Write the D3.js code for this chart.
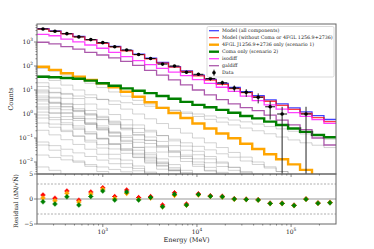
<!DOCTYPE html>
<html>
<head>
<meta charset="utf-8">
<script src="https://cdn.jsdelivr.net/npm/d3@7"></script>
<style>
  body { margin: 0; background: #fff; }
  svg text { font-family: "DejaVu Serif", serif; fill: #222; }
</style>
</head>
<body>
<svg id="chart" width="374" height="249"></svg>
<script>
// energy bin edges (MeV)
var binEdges = [200, 268, 359, 481, 644, 863, 1156, 1549, 2075, 2780, 3725, 4990, 6685,
  8956, 11999, 16075, 21535, 28851, 38652, 51782, 69372, 92937, 124507, 166802, 223466, 300000];

var dataCounts = [3500, 2800, 2230, 1630, 1260, 940, 635, 465, 300, 205, 120, 100, 55, 45, 30,
  20, 12, 8, 5, 2, 1, 0, 1, 0, 0];

var modelAll = [3596, 2889, 2245, 1707, 1267, 919, 652, 451, 310, 210, 140, 94.4, 62.9, 41.8,
  27.9, 18.8, 12.7, 8.6, 5.8, 3.9, 2.65, 1.8, 1.23, 0.85, 0.59];
var modelBkg = [3467, 2786, 2163, 1641, 1216, 881, 624, 431, 295, 200, 133, 89, 59, 39, 25.7,
  17.2, 11.5, 7.7, 5.1, 3.4, 2.3, 1.55, 1.05, 0.71, 0.48];
var psrOnly = [93, 69, 50, 36, 26, 19, 13, 8.5, 5.2, 3.1, 1.8, 1.1, 0.68, 0.40, 0.25, 0.155,
  0.098, 0.058, 0.035, 0.021, 0.013, 0.008, 0.0047, 0.0028, 0.0017];
var comaOnly = [35.5, 34, 31.6, 29.5, 24.5, 19, 15, 11.7, 9.3, 7.4, 5.6, 4.3, 3.2, 2.4, 1.9,
  1.48, 1.12, 0.83, 0.66, 0.48, 0.35, 0.25, 0.18, 0.135, 0.107];
var isodiff = [2090, 1820, 1330, 1020, 750, 550, 372, 245, 166, 115, 80, 56, 39.5, 27, 18.8,
  13, 8.7, 5.6, 3.6, 2.4, 1.6, 1.15, 0.8, 0.58, 0.41];
var galdiff = [977, 832, 646, 501, 372, 288, 219, 155, 107, 66, 42, 26.3, 16.2, 10, 6.3, 4.0,
  2.63, 1.86, 1.38, 0.89, 0.56, 0.355, 0.224, 0.1, 0.051];

// other point sources in the region of interest
var otherSources = [
  [8.9, 7.6, 6.6, 5.6, 4.8, 4.1, 3.5, 2.95, 2.5, 2.1, 1.74, 1.45, 1.2, 1.0, 0.83, 0.69, 0.56, 0.47, 0.38, 0.30, 0.24, 0.19, 0.148, 0.115, 0.089],
  [79, 60, 42, 28, 19, 12.6, 8.3, 5.5, 3.7, 2.6, 1.9, 1.4, 1.05, 0.79, 0.6, 0.46, 0.35, 0.26, 0.2, 0.15, 0.11, 0.083, 0.063, 0.05, 0.04],
  [20, 12, 7.2, 4.4, 2.6, 1.6, 0.95, 0.58, 0.35, 0.21, 0.126, 0.076, 0.046, 0.028, 0.017, 0.01, 0.006, 0.0036],
  [14, 8, 4.5, 2.5, 1.4, 0.8, 0.45, 0.25, 0.14, 0.08, 0.045, 0.025, 0.014, 0.008, 0.0045],
  [10, 5, 2.5, 1.26, 0.63, 0.32, 0.16, 0.08, 0.04, 0.02, 0.01, 0.005],
  [7.6, 4.6, 2.75, 1.66, 1.0, 0.6, 0.36, 0.22, 0.13, 0.08, 0.048, 0.029, 0.017, 0.01, 0.006, 0.0037],
  [5.6, 2.9, 1.5, 0.8, 0.42, 0.22, 0.115, 0.06, 0.031, 0.016, 0.0085, 0.0045],
  [4.7, 3.1, 2.0, 1.35, 0.9, 0.58, 0.39, 0.26, 0.17, 0.11, 0.072, 0.048, 0.031, 0.02, 0.0135, 0.009, 0.006, 0.004],
  [3.5, 2.0, 1.15, 0.66, 0.38, 0.22, 0.126, 0.072, 0.041, 0.024, 0.0135, 0.0078, 0.0045],
  [2.6, 1.66, 1.05, 0.66, 0.42, 0.26, 0.166, 0.105, 0.066, 0.042, 0.026, 0.0166, 0.0105, 0.0066, 0.0042],
  [1.95, 1.07, 0.59, 0.32, 0.18, 0.098, 0.054, 0.03, 0.016, 0.009, 0.005],
  [1.62, 1.12, 0.78, 0.54, 0.37, 0.26, 0.18, 0.123, 0.085, 0.059, 0.041, 0.028, 0.0195, 0.0135, 0.0093, 0.0065, 0.0045],
  [1.2, 0.72, 0.43, 0.26, 0.155, 0.093, 0.056, 0.033, 0.02, 0.012, 0.0072, 0.0043],
  [0.91, 0.58, 0.36, 0.23, 0.145, 0.091, 0.058, 0.036, 0.023, 0.0145, 0.0091, 0.0058, 0.0036],
  [0.68, 0.38, 0.21, 0.12, 0.068, 0.038, 0.021, 0.012, 0.0068, 0.0038],
  [0.42, 0.28, 0.185, 0.12, 0.081, 0.053, 0.035, 0.023, 0.0153, 0.01, 0.0067, 0.0044],
  [0.21, 0.135, 0.085, 0.054, 0.034, 0.021, 0.0135, 0.0085, 0.0054, 0.0034],
  [0.068, 0.048, 0.034, 0.024, 0.017, 0.012, 0.0085, 0.006, 0.0043],
  [0.051, 0.031, 0.018, 0.011, 0.0066, 0.004],
  [0.0195, 0.0155, 0.0123, 0.0098, 0.0078, 0.0062, 0.0049, 0.0039],
  [0.0062, 0.0045],
  [4.0, 2.8, 2.0, 1.42, 1.0, 0.71, 0.5, 0.35, 0.25, 0.18, 0.126, 0.089, 0.063, 0.045, 0.032, 0.022, 0.0158, 0.011, 0.0079, 0.0056, 0.004],
  [40, 25, 16, 10, 6.3, 4, 2.5, 1.6, 1.0, 0.63, 0.4, 0.25, 0.16, 0.1, 0.063, 0.04, 0.025, 0.016, 0.01, 0.0063, 0.004]
];

// residuals (data - model)/sqrt(model)
var resBkg = [0.8, 0.15, 1.6, -0.25, 1.4, 2.25, 0.5, 1.8, 0.3, 0.5, -1.2, 1.25, -1.0, 1.05, 0.65,
  0.55, 0.05, -0.05, -0.15, -0.85, -0.85, -1.25, 0.0, -0.8, -0.7];
var resComa = [0.2, -0.35, 1.15, -0.6, 1.0, 1.95, 0.1, 1.1, -0.1, 0.2, -1.55, 0.7, -1.25, 0.8, 0.5,
  0.4, -0.05, -0.1, -0.2, -0.9, -0.9, -1.3, -0.05, -0.85, -0.7];
var resPsr = [-0.55, -1.0, 0.45, -1.2, 0.5, 1.6, -0.2, 1.4, -0.2, 0.3, -1.55, 0.95, -1.2, 0.9, 0.55,
  0.45, 0.0, -0.1, -0.2, -0.9, -0.9, -1.3, -0.05, -0.85, -0.75];

var legendLabels = ["Model (all components)", "Model (without Coma or 4FGL 1256.9+2736)",
  "4FGL J1256.9+2736 only (scenario 1)", "Coma only (scenario 2)", "isodiff", "galdiff", "Data"];

var pLeft = 37, pRight = 336, pTop = 24, pMid = 174, pBottom = 224;
var yMin = Math.pow(10, -2.5), yMax = Math.pow(10, 3.75);

var svg = d3.select("#chart");

var x = d3.scaleLog().domain([200, 300000]).range([pLeft, pRight]);
var y = d3.scaleLog().domain([yMin, yMax]).range([pMid, pTop]);
var yr = d3.scaleLinear().domain([-5, 5]).range([pBottom, pMid]);

svg.append("clipPath").attr("id", "clipMain")
  .append("rect").attr("x", pLeft).attr("y", pTop).attr("width", pRight - pLeft).attr("height", pMid - pTop);
svg.append("clipPath").attr("id", "clipRes")
  .append("rect").attr("x", pLeft).attr("y", pMid).attr("width", pRight - pLeft).attr("height", pBottom - pMid);

var centers = binEdges.slice(0, -1).map(function(e, i) { return Math.sqrt(e * binEdges[i + 1]); });

function stepPath(vals) {
  var pts = [];
  vals.forEach(function(v, i) { pts.push([binEdges[i], v]); });
  var n = vals.length;
  if (n < binEdges.length - 1) {
    // spectrum continues below the axis
    pts.push([binEdges[n], yMin / 20]);
    pts.push([binEdges[n + 1], yMin / 20]);
  } else {
    pts.push([binEdges[n], vals[n - 1]]);
  }
  return d3.line().curve(d3.curveStepAfter)
    .x(function(d) { return x(d[0]); })
    .y(function(d) { return y(Math.max(d[1], yMin / 20)); })(pts);
}

var main = svg.append("g").attr("clip-path", "url(#clipMain)");

main.selectAll(".src")
  .data(otherSources)
  .enter().append("path")
  .attr("class", "src")
  .attr("d", stepPath)
  .attr("fill", "none")
  .attr("stroke", "#808080")
  .attr("stroke-opacity", 0.35)
  .attr("stroke-width", 1);

var curves = [
  { vals: modelAll, color: "#0000ff", op: 0.75, w: 1.3 },
  { vals: modelBkg, color: "#ff0000", op: 0.75, w: 1.3 },
  { vals: psrOnly, color: "#ffa500", op: 1, w: 2.4 },
  { vals: comaOnly, color: "#008000", op: 1, w: 2.4 },
  { vals: isodiff, color: "#ff00ff", op: 0.75, w: 1.3 },
  { vals: galdiff, color: "#800080", op: 0.65, w: 1.3 }
];

main.selectAll(".model")
  .data(curves)
  .enter().append("path")
  .attr("class", "model")
  .attr("d", function(d) { return stepPath(d.vals); })
  .attr("fill", "none")
  .attr("stroke", function(d) { return d.color; })
  .attr("stroke-opacity", function(d) { return d.op; })
  .attr("stroke-width", function(d) { return d.w; });

// data points with poisson error bars
var pts = dataCounts.map(function(n, i) { return { n: n, i: i }; })
  .filter(function(d) { return d.n > 0; });

var dg = main.selectAll(".dat").data(pts).enter().append("g").attr("class", "dat");
dg.append("line")
  .attr("x1", function(d) { return x(centers[d.i]); })
  .attr("x2", function(d) { return x(centers[d.i]); })
  .attr("y1", function(d) { return y(d.n + Math.sqrt(d.n)); })
  .attr("y2", function(d) {
    var lo = d.n - Math.sqrt(d.n);
    return lo > yMin ? y(lo) : pMid + 5;
  })
  .attr("stroke", "#222").attr("stroke-width", 1);
dg.append("line")
  .attr("x1", function(d) { return x(binEdges[d.i]) + 1; })
  .attr("x2", function(d) { return x(binEdges[d.i + 1]) - 1; })
  .attr("y1", function(d) { return y(d.n); })
  .attr("y2", function(d) { return y(d.n); })
  .attr("stroke", "#111").attr("stroke-width", 1);
dg.append("circle")
  .attr("cx", function(d) { return x(centers[d.i]); })
  .attr("cy", function(d) { return y(d.n); })
  .attr("r", 1.8)
  .attr("fill", "#000");

// residual panel
var res = svg.append("g").attr("clip-path", "url(#clipRes)");
res.append("line").attr("x1", pLeft).attr("x2", pRight).attr("y1", yr(0)).attr("y2", yr(0))
  .attr("stroke", "#999").attr("stroke-width", 1);
[-3, 3].forEach(function(v) {
  res.append("line").attr("x1", pLeft).attr("x2", pRight).attr("y1", yr(v)).attr("y2", yr(v))
    .attr("stroke", "#999").attr("stroke-width", 0.8).attr("stroke-dasharray", "2,1.5");
});

var resSets = [
  { vals: resBkg, color: "#ff0000" },
  { vals: resComa, color: "#ffa500" },
  { vals: resPsr, color: "#008000" }
];
resSets.forEach(function(s) {
  var g = res.selectAll(null).data(s.vals).enter().append("g");
  g.append("path")
    .attr("d", function(v, i) {
      var cx = x(centers[i]), cy = yr(v);
      return "M" + (cx - 2.6) + "," + cy + "H" + (cx + 2.6) + "M" + cx + "," + (cy - 2.6) + "V" + (cy + 2.6);
    })
    .attr("stroke", s.color).attr("stroke-width", 0.9);
  g.append("circle")
    .attr("cx", function(v, i) { return x(centers[i]); })
    .attr("cy", function(v) { return yr(v); })
    .attr("r", 1.9)
    .attr("fill", s.color);
});

// axes frames
svg.append("rect").attr("x", pLeft).attr("y", pTop).attr("width", pRight - pLeft).attr("height", pMid - pTop)
  .attr("fill", "none").attr("stroke", "#666").attr("stroke-width", 1);
svg.append("rect").attr("x", pLeft).attr("y", pMid).attr("width", pRight - pLeft).attr("height", pBottom - pMid)
  .attr("fill", "none").attr("stroke", "#666").attr("stroke-width", 1);

function supLabel(sel, exp, fs) {
  sel.text("10");
  sel.append("tspan").attr("dy", -3).attr("font-size", fs * 0.72).text(exp < 0 ? "\u2212" + (-exp) : exp);
}

// y ticks, main panel
var yMajor = [-2, -1, 0, 1, 2, 3];
var yMinor = [];
for (var p = -3; p <= 3; p++) {
  for (var m = 2; m <= 9; m++) {
    var v = m * Math.pow(10, p);
    if (v > yMin && v < yMax) yMinor.push(v);
  }
}
var tk = svg.append("g").attr("stroke", "#555").attr("stroke-width", 0.7);
yMinor.forEach(function(v) {
  tk.append("line").attr("x1", pLeft).attr("x2", pLeft - 1.5).attr("y1", y(v)).attr("y2", y(v));
});
yMajor.forEach(function(p) {
  var yy = y(Math.pow(10, p));
  tk.append("line").attr("x1", pLeft).attr("x2", pLeft - 3).attr("y1", yy).attr("y2", yy);
  var t = svg.append("text").attr("x", pLeft - 4).attr("y", yy + 2).attr("text-anchor", "end")
    .attr("font-size", 6);
  supLabel(t, p, 6);
});

// x ticks
var xMinor = [];
for (var q = 2; q <= 5; q++) {
  for (var k = 2; k <= 9; k++) {
    var e = k * Math.pow(10, q);
    if (e > 200 && e < 300000) xMinor.push(e);
  }
}
[pMid, pBottom].forEach(function(base) {
  xMinor.forEach(function(e) {
    tk.append("line").attr("x1", x(e)).attr("x2", x(e)).attr("y1", base).attr("y2", base + 1.5);
  });
  [3, 4, 5].forEach(function(q) {
    tk.append("line").attr("x1", x(Math.pow(10, q))).attr("x2", x(Math.pow(10, q)))
      .attr("y1", base).attr("y2", base + 3);
  });
});
[3, 4, 5].forEach(function(q) {
  var t = svg.append("text").attr("x", x(Math.pow(10, q))).attr("y", pBottom + 10)
    .attr("text-anchor", "middle").attr("font-size", 6);
  supLabel(t, q, 6);
});

// residual y ticks
[-5, 0, 5].forEach(function(v) {
  tk.append("line").attr("x1", pLeft).attr("x2", pLeft - 3).attr("y1", yr(v)).attr("y2", yr(v));
  svg.append("text").attr("x", pLeft - 4).attr("y", yr(v) + 2).attr("text-anchor", "end")
    .attr("font-size", 6).text(v < 0 ? "\u2212" + (-v) : v);
});

// axis labels
svg.append("text").attr("transform", "translate(13,99) rotate(-90)")
  .attr("text-anchor", "middle").attr("font-size", 6.5).text("Counts");
svg.append("text").attr("transform", "translate(18,201) rotate(-90)")
  .attr("text-anchor", "middle").attr("font-size", 6).text("Residual (\u0394N/\u221AN\u0305)");
svg.append("text").attr("x", (pLeft + pRight) / 2).attr("y", 242)
  .attr("text-anchor", "middle").attr("font-size", 6.5).text("Energy (MeV)");

// legend
var lg = svg.append("g");
lg.append("rect").attr("x", 207).attr("y", 26.5).attr("width", 127).attr("height", 50.5)
  .attr("rx", 1.5).attr("fill", "#fff").attr("fill-opacity", 0.85)
  .attr("stroke", "#ccc").attr("stroke-width", 0.7);
legendLabels.forEach(function(label, i) {
  var ly = 30.7 + i * 7;
  if (i < curves.length) {
    var c = curves[i];
    lg.append("line").attr("x1", 209).attr("x2", 219).attr("y1", ly).attr("y2", ly)
      .attr("stroke", c.color).attr("stroke-opacity", c.op).attr("stroke-width", c.w);
  } else {
    lg.append("line").attr("x1", 214).attr("x2", 214).attr("y1", ly - 3).attr("y2", ly + 3)
      .attr("stroke", "#111").attr("stroke-width", 1);
    lg.append("circle").attr("cx", 214).attr("cy", ly).attr("r", 1.8).attr("fill", "#000");
  }
  lg.append("text").attr("x", 222).attr("y", ly + 1.7).attr("font-size", 4.8).text(label);
});
</script>
</body>
</html>
